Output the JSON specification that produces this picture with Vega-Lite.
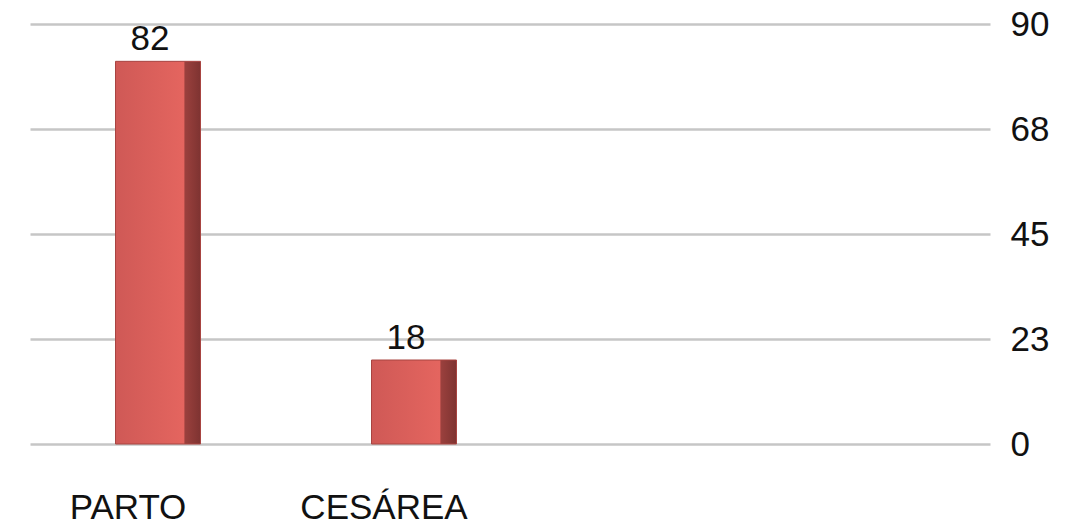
{
  "$schema": "https://vega.github.io/schema/vega-lite/v6.json",
  "autosize": "none",
  "width": 960,
  "height": 420,
  "padding": {"left": 30, "top": 24, "right": 91, "bottom": 85},
  "background": "white",
  "config": {
    "view": {"stroke": null},
    "font": "Liberation Sans"
  },
  "data": {
    "values": [
      {"tipo": "PARTO", "valor": 82},
      {"tipo": "CESÁREA", "valor": 18}
    ]
  },
  "encoding": {
    "x": {
      "field": "tipo",
      "type": "nominal",
      "sort": null,
      "scale": {"paddingInner": 0, "paddingOuter": 0.875, "align": 0},
      "axis": {
        "title": null,
        "labelAngle": 0,
        "labelFontSize": 35,
        "labelColor": "#111",
        "labelPadding": 46,
        "labelOffset": -30,
        "domain": false,
        "ticks": false,
        "grid": false
      }
    },
    "y": {
      "field": "valor",
      "type": "quantitative",
      "scale": {"domain": [0, 90], "nice": false},
      "axis": {
        "orient": "right",
        "title": null,
        "values": [0, 22.5, 45, 67.5, 90],
        "format": ".0f",
        "labelFontSize": 35,
        "labelColor": "#111",
        "labelPadding": 20,
        "domain": false,
        "ticks": false,
        "grid": true,
        "gridColor": "#c6c6c6",
        "gridWidth": 2.5
      }
    }
  },
  "layer": [
    {
      "mark": {
        "type": "bar",
        "width": 85,
        "color": {
          "gradient": "linear",
          "x1": 0, "y1": 0, "x2": 1, "y2": 0,
          "stops": [
            {"offset": 0, "color": "#cf5956"},
            {"offset": 0.8, "color": "#e4655f"},
            {"offset": 0.82, "color": "#9a403d"},
            {"offset": 1, "color": "#7e3331"}
          ]
        },
        "stroke": "#a84441",
        "strokeWidth": 1
      }
    },
    {
      "mark": {"type": "text", "fontSize": 35, "baseline": "bottom", "dy": -4, "dx": -8, "color": "#111"},
      "encoding": {"text": {"field": "valor", "type": "quantitative"}}
    }
  ]
}
